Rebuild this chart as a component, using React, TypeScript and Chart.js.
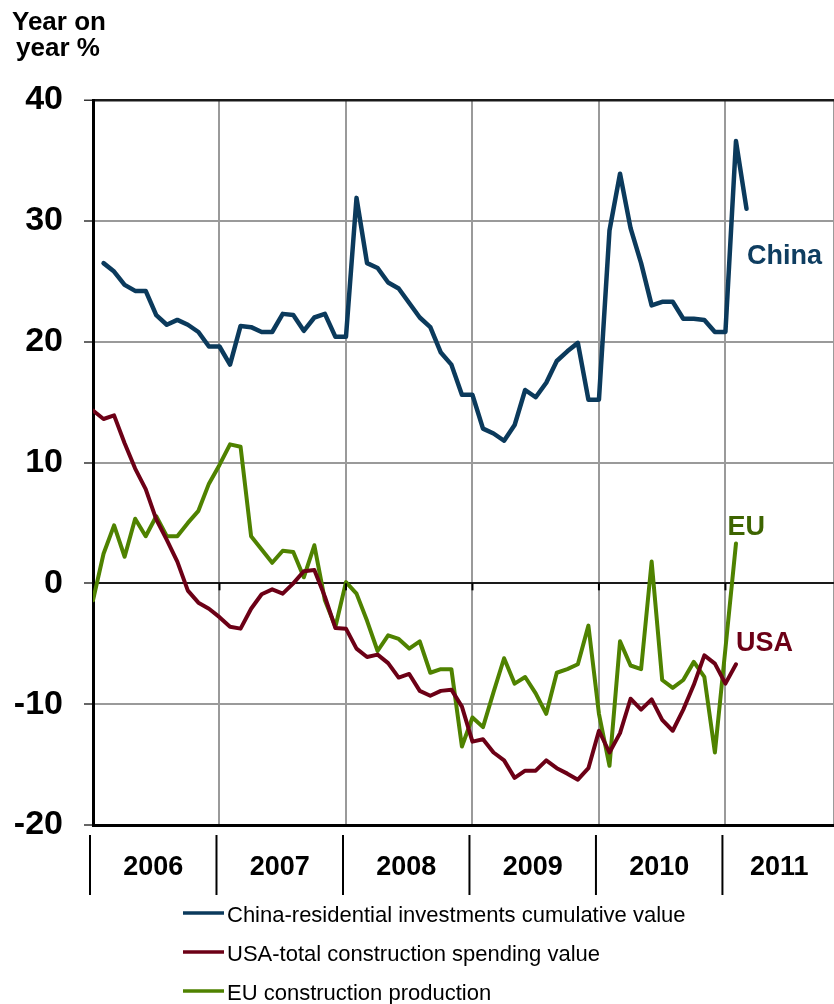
import React, { useEffect, useRef } from "react";
import { Chart, registerables } from "chart.js";

Chart.register(...registerables);

// ---------- data (monthly, index 0 = Jan 2006) ----------
const YEARS = ["2006", "2007", "2008", "2009", "2010", "2011"];

const CHINA: (number | null)[] = [
  null, 26.5, 25.8, 24.7, 24.2, 24.2, 22.2, 21.4, 21.8, 21.4, 20.8, 19.6,
  19.6, 18.1, 21.3, 21.2, 20.8, 20.8, 22.3, 22.2, 20.9, 22.0, 22.3, 20.4,
  20.4, 31.9, 26.5, 26.1, 24.9, 24.4, 23.2, 22.0, 21.2, 19.1, 18.1, 15.6,
  15.6, 12.8, 12.4, 11.8, 13.1, 16.0, 15.4, 16.6, 18.4, 19.2, 19.9, 15.2,
  15.2, 29.2, 33.9, 29.4, 26.5, 23.0, 23.3, 23.3, 21.9, 21.9, 21.8, 20.8,
  20.8, 36.6, 31.0,
];

const USA: (number | null)[] = [
  14.3, 13.6, 13.9, 11.6, 9.5, 7.8, 5.3, 3.6, 1.8, -0.6, -1.6, -2.1,
  -2.8, -3.6, -3.75, -2.1, -0.9, -0.5, -0.85, 0.0, 1.0, 1.1, -1.1, -3.7,
  -3.75, -5.4, -6.1, -5.9, -6.6, -7.8, -7.5, -8.9, -9.3, -8.9, -8.8, -10.2,
  -13.1, -12.9, -14.0, -14.65, -16.1, -15.5, -15.5, -14.65, -15.3, -15.75, -16.25, -15.3,
  -12.2, -14.0, -12.4, -9.55, -10.45, -9.6, -11.3, -12.2, -10.45, -8.4, -5.96, -6.65,
  -8.3, -6.7,
];

const EU: (number | null)[] = [
  -1.4, 2.45, 4.8, 2.2, 5.35, 3.9, 5.55, 3.9, 3.9, 5.0, 6.0, 8.25,
  9.8, 11.5, 11.3, 3.9, 2.8, 1.7, 2.7, 2.6, 0.5, 3.15, -1.4, -3.6,
  0.1, -0.85, -3.1, -5.6, -4.3, -4.6, -5.4, -4.8, -7.4, -7.1, -7.1, -13.5,
  -11.1, -11.9, -9.0, -6.2, -8.3, -7.75, -9.1, -10.8, -7.4, -7.1, -6.7, -3.5,
  -10.8, -15.1, -4.8, -6.8, -7.1, 1.8, -8.0, -8.65, -8.0, -6.5, -7.75, -14.0,
  -5.4, 3.3,
];

const SERIES_LABELS = [
  "China-residential investments cumulative value",
  "USA-total construction spending value",
  "EU construction production",
];
const END_LABELS = ["China", "USA", "EU"];

const Y_MIN = -20;
const Y_MAX = 40;
const Y_STEP = 10;
const X_MAX = 70.3; // months shown (axis runs off the right edge)

const COLORS = ["#0b3a5c", "#6c0016", "#4f8200"];
const LABEL_COLORS = ["#0e3d60", "#6c0016", "#3d6400"];
const FONT = "'Liberation Sans', Arial, Helvetica, sans-serif";

const toXY = (arr: (number | null)[]) => arr.map((v, i) => ({ x: i, y: v }));

const overlay = {
  id: "overlay",
  afterDraw(chart: any) {
    const { ctx, chartArea } = chart;
    const x = chart.scales.x;
    const y = chart.scales.y;
    ctx.save();

    // axis title
    ctx.fillStyle = "#000";
    ctx.font = `bold 26px ${FONT}`;
    ctx.textAlign = "left";
    ctx.textBaseline = "alphabetic";
    ctx.fillText("Year on", 12, 30);
    ctx.fillText("year %", 16, 56);

    // small ticks on the zero line
    const y0 = y.getPixelForValue(0);
    ctx.strokeStyle = "#000";
    ctx.lineWidth = 2;
    for (let k = 1; k < YEARS.length; k++) {
      const px = x.getPixelForValue(12 * k);
      ctx.beginPath();
      ctx.moveTo(px, y0);
      ctx.lineTo(px, y0 + 7);
      ctx.stroke();
    }

    // year separators and labels below the axis
    const sepTop = chartArea.bottom + 10;
    const sepBot = chartArea.bottom + 70;
    const seps: number[] = YEARS.map((_, k) => x.getPixelForValue(12 * k) - 3);
    ctx.lineWidth = 2;
    seps.forEach((sx) => {
      ctx.beginPath();
      ctx.moveTo(sx, sepTop);
      ctx.lineTo(sx, sepBot);
      ctx.stroke();
    });
    ctx.font = `bold 27px ${FONT}`;
    ctx.textAlign = "center";
    YEARS.forEach((yr, k) => {
      const left = seps[k];
      const right = k + 1 < seps.length ? seps[k + 1] : chartArea.right + 2;
      ctx.fillText(yr, (left + right) / 2, chartArea.bottom + 50);
    });

    // series end labels
    ctx.font = `bold 27px ${FONT}`;
    ctx.textAlign = "left";
    const endPos = [
      { m: 62.05, v: 26.4 },
      { m: 61.0, v: -5.6 },
      { m: 60.2, v: 4.0 },
    ];
    END_LABELS.forEach((t, i) => {
      ctx.fillStyle = LABEL_COLORS[i];
      ctx.fillText(t, x.getPixelForValue(endPos[i].m), y.getPixelForValue(endPos[i].v));
    });

    // legend
    ctx.font = `22px ${FONT}`;
    const baselines = [922, 961, 1000];
    SERIES_LABELS.forEach((t, i) => {
      ctx.strokeStyle = COLORS[i];
      ctx.lineWidth = 3.5;
      ctx.beginPath();
      ctx.moveTo(183, baselines[i] - 9);
      ctx.lineTo(224, baselines[i] - 9);
      ctx.stroke();
      ctx.fillStyle = "#000";
      ctx.fillText(t, 227, baselines[i]);
    });

    ctx.restore();
  },
};

export default function App() {
  const ref = useRef<HTMLCanvasElement | null>(null);

  useEffect(() => {
    if (!ref.current) return;
    const series = [CHINA, USA, EU];
    const chart = new Chart(ref.current, {
      type: "line",
      data: {
        datasets: series.map((arr, i) => ({
          label: SERIES_LABELS[i],
          data: toXY(arr),
          borderColor: COLORS[i],
          backgroundColor: COLORS[i],
          borderWidth: i === 0 ? 4.5 : 4,
          pointRadius: 0,
          tension: 0,
          borderJoinStyle: "round" as const,
          borderCapStyle: "round" as const,
          spanGaps: false,
        })),
      },
      options: {
        responsive: false,
        animation: false,
        devicePixelRatio: 1,
        layout: { padding: { top: 100, right: 0, left: 0, bottom: 0 } },
        plugins: {
          legend: { display: false },
          tooltip: { enabled: false },
        },
        scales: {
          x: {
            type: "linear",
            min: 0,
            max: X_MAX,
            afterFit: (s: any) => {
              s.height = 179;
            },
            ticks: { stepSize: 12, display: false },
            grid: {
              drawTicks: false,
              lineWidth: 2,
              color: (c: any) => (c.tick && c.tick.value === 0 ? "rgba(0,0,0,0)" : "#9a9a9a"),
            },
            border: { display: true, color: "#000", width: 3 },
          },
          y: {
            min: Y_MIN,
            max: Y_MAX,
            afterFit: (s: any) => {
              s.width = 93;
            },
            ticks: {
              stepSize: Y_STEP,
              color: "#000",
              padding: 21,
              font: { family: FONT, size: 34, weight: "bold" },
            },
            grid: {
              tickLength: 9,
              tickColor: "#333",
              tickWidth: 1.5,
              lineWidth: (c: any) => {
                const v = c.tick ? c.tick.value : null;
                if (v === Y_MAX) return 2.5;
                return 2;
              },
              color: (c: any) => {
                const v = c.tick ? c.tick.value : null;
                if (v === 0 || v === Y_MAX) return "#1a1a1a";
                if (v === Y_MIN) return "rgba(0,0,0,0)";
                return "#9a9a9a";
              },
            },
            border: { display: true, color: "#000", width: 3 },
          },
        },
      },
      plugins: [overlay],
    });
    return () => chart.destroy();
  }, []);

  return (
    <div style={{ position: "absolute", left: 0, top: 0, width: 834, height: 1004 }}>
      <canvas ref={ref} width={834} height={1004} />
    </div>
  );
}
